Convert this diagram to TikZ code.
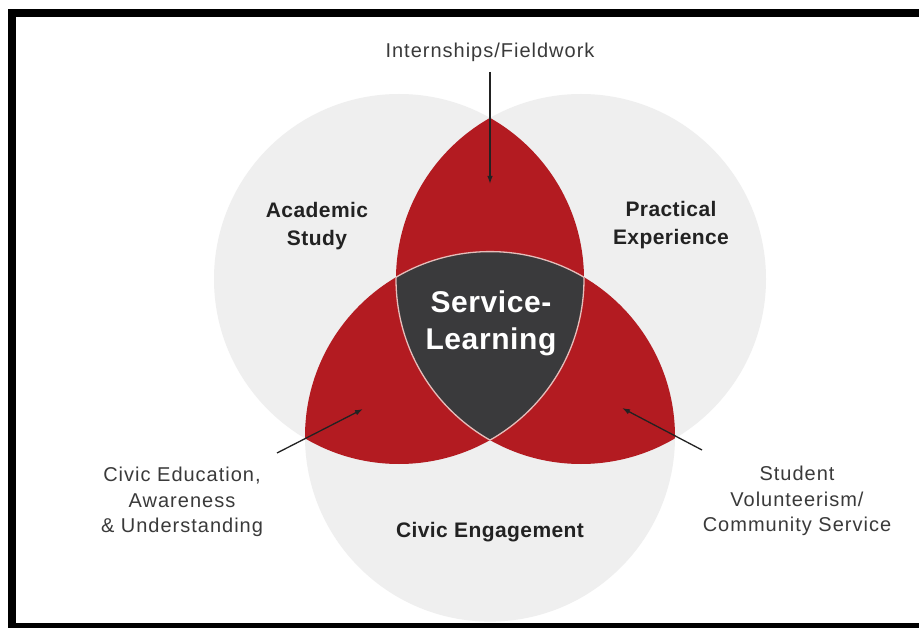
\documentclass[tikz,border=0pt]{standalone}
\usepackage{fontspec}
\setmainfont{Liberation Sans}
\newfontfamily\lblfont[LetterSpace=5]{Liberation Sans}
\newfontfamily\bldfont[LetterSpace=2]{Liberation Sans}
\usetikzlibrary{arrows.meta}
\definecolor{circgray}{HTML}{EFEFEF}
\definecolor{vred}{HTML}{B31B21}
\definecolor{vdark}{HTML}{3A3A3C}
\definecolor{txtgray}{HTML}{3A3A3A}
\definecolor{txtdark}{HTML}{222222}
\definecolor{edgecol}{HTML}{E6BDBA}
\tikzset{
  lbl/.style={text=txtgray, align=center, inner sep=0pt, font=\lblfont\fontsize{20}{25.5}\selectfont},
  blbl/.style={text=txtdark, align=center, inner sep=0pt, font=\bldfont\bfseries\fontsize{21}{28}\selectfont},
  slbl/.style={text=white, align=center, inner sep=0pt, font=\bldfont\bfseries\fontsize{30}{37}\selectfont},
  arr/.style={draw=txtdark, line width=1.3pt, -{Latex[length=8pt,width=5.5pt]}},
  rim/.style={draw=edgecol, line width=1.3pt},
  frame/.style={draw=black, line width=7.5pt}
}
\begin{document}
\begin{tikzpicture}[x=1pt,y=-1pt]
\useasboundingbox (0,0) rectangle (919,628);
\fill[white] (0,0) rectangle (919,628);
\def\R{185pt}
\coordinate (A) at (399,279);
\coordinate (B) at (581,279);
\coordinate (C) at (490,436.6);
% gray circles
\fill[circgray] (A) circle[radius=\R];
\fill[circgray] (B) circle[radius=\R];
\fill[circgray] (C) circle[radius=\R];
% red pairwise overlaps
\begin{scope}
  \clip (A) circle[radius=\R];
  \fill[vred] (B) circle[radius=\R];
  \fill[vred] (C) circle[radius=\R];
\end{scope}
\begin{scope}
  \clip (B) circle[radius=\R];
  \fill[vred] (C) circle[radius=\R];
\end{scope}
% dark centre
\begin{scope}
  \clip (A) circle[radius=\R];
  \clip (B) circle[radius=\R];
  \fill[vdark] (C) circle[radius=\R];
\end{scope}
% light rim of centre
\begin{scope}
  \clip (A) circle[radius=\R];
  \clip (B) circle[radius=\R];
  \draw[rim] (C) circle[radius=\R];
\end{scope}
\begin{scope}
  \clip (A) circle[radius=\R];
  \clip (C) circle[radius=\R];
  \draw[rim] (B) circle[radius=\R];
\end{scope}
\begin{scope}
  \clip (B) circle[radius=\R];
  \clip (C) circle[radius=\R];
  \draw[rim] (A) circle[radius=\R];
\end{scope}
% labels
\node[lbl] (intern) at (490,52) {Internships/Fieldwork};
\node[blbl] (acad) at (317,226) {Academic\\Study};
\node[blbl] (pract) at (671,225) {Practical\\Experience};
\node[slbl] (serv) at (491,323) {Service-\\Learning};
\node[lbl] (cived) at (182,502) {Civic Education,\\Awareness\\\& Understanding};
\node[lbl] (stud) at (797,501) {Student\\Volunteerism/\\Community Service};
\node[blbl] (civeng) at (490,532) {Civic Engagement};
% arrows
\coordinate (a1s) at (490,72);
\coordinate (a1e) at (490,184);
\coordinate (a2s) at (277,453);
\coordinate (a2e) at (363,409);
\coordinate (a3s) at (702,450);
\coordinate (a3e) at (622,408);
\draw[arr] (a1s) -- (a1e);
\draw[arr] (a2s) -- (a2e);
\draw[arr] (a3s) -- (a3e);
% frame
\begin{scope}
  \clip (0,0) rectangle (919,628);
  \draw[frame] (12,13.25) rectangle (935,626.5);
\end{scope}
\end{tikzpicture}
\end{document}
